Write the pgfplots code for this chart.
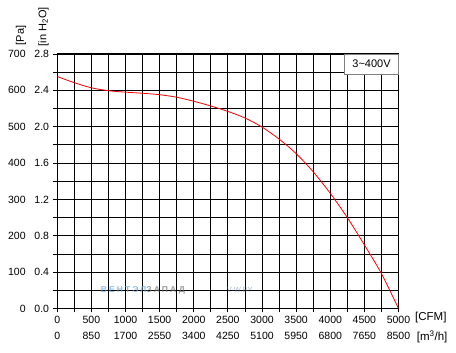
\documentclass[border=0pt]{standalone}
\usepackage{fontspec}
\setmainfont{Liberation Sans}
\usepackage{pgfplots}
\pgfplotsset{compat=1.18}
\newcommand{\yl}[2]{\makebox[16pt][r]{#1}\hspace{10pt}\makebox[13.5pt][r]{#2}}
\begin{document}
\begin{tikzpicture}
\path[use as bounding box] (-57.3pt,-44.5pt) rectangle (398.7pt,308.5pt);
\begin{axis}[
  at={(0,0)}, anchor=south west,
  scale only axis, width=341.2pt, height=254.5pt,
  xmin=0, xmax=5000, ymin=0, ymax=700,
  xtick={0,500,...,5000},
  minor xtick={250,750,...,4750},
  ytick={0,100,...,700},
  minor ytick={50,150,...,650},
  xticklabels={0\\0, 500\\850, 1000\\1700, 1500\\2550, 2000\\3400, 2500\\4250, 3000\\5100, 3500\\5950, 4000\\6800, 4500\\7650, 5000\\8500},
  yticklabels={\yl{0}{0.0},\yl{100}{0.4},\yl{200}{0.8},\yl{300}{1.2},\yl{400}{1.6},\yl{500}{2.0},\yl{600}{2.4},\yl{700}{2.8}},
  xticklabel style={align=center, font=\fontsize{10.5}{16}\selectfont, anchor=north, inner sep=0pt, yshift=-3pt},
  yticklabel style={font=\fontsize{10.5}{12}\selectfont, anchor=east, inner sep=0pt, xshift=-4pt},
  /pgf/number format/assume math mode=true,
  grid=both,
  major grid style={black, line width=0.9pt},
  minor grid style={black, line width=0.9pt},
  axis line style={black, line width=1pt},
  tick align=outside,
  tick style={black, line width=0.8pt},
  major tick length=4pt, minor tick length=4pt,
  xtick pos=bottom, ytick pos=left,
]
\addplot[red, line width=0.8pt, smooth] coordinates {
(0,638) (250,621) (500,607) (750,599) (1000,595) (1250,592) (1500,588)
(1750,581) (2000,570) (2250,557) (2500,542) (2750,524) (3000,499)
(3250,466) (3500,426) (3750,376) (4000,317) (4250,250) (4500,175)
(4750,96) (5000,0)};
\end{axis}
\node[rotate=90, anchor=west, inner sep=0pt, font=\fontsize{11}{13}\selectfont] at (-36.3pt,263pt) {[Pa]};
\node[rotate=90, anchor=west, inner sep=0pt, font=\fontsize{11}{13}\selectfont] at (-13.8pt,262pt) {[in H\textsubscript{2}O]};
\node[anchor=west, inner sep=0pt, font=\fontsize{11.5}{13}\selectfont] at (357.7pt,-9.5pt) {[CFM]};
\node[anchor=west, inner sep=0pt, font=\fontsize{11.5}{13}\selectfont] at (359.4pt,-28.5pt) {[m\textsuperscript{3}/h]};
\draw[gray, line width=0.8pt, fill=white] (287pt,234.2pt) rectangle (341.2pt,254.5pt);
\node[inner sep=0pt, font=\fontsize{11}{13}\selectfont] at (314.2pt,244.3pt) {3\textasciitilde400V};
\node[anchor=west, inner sep=0pt, opacity=0.75, font=\bfseries\fontsize{8.5}{10}\selectfont\addfontfeatures{LetterSpace=25}] at (43.4pt,18.5pt) {\textcolor[RGB]{100,170,225}{ВЕНТЭЛ}\textcolor[RGB]{120,120,120}{ЗАПАД}};
\node[anchor=west, inner sep=0pt, opacity=0.6, font=\fontsize{7.5}{9}\selectfont] at (169.4pt,18.5pt) {\textcolor[RGB]{120,140,170}{V-W.BY}};
\end{tikzpicture}
\end{document}
